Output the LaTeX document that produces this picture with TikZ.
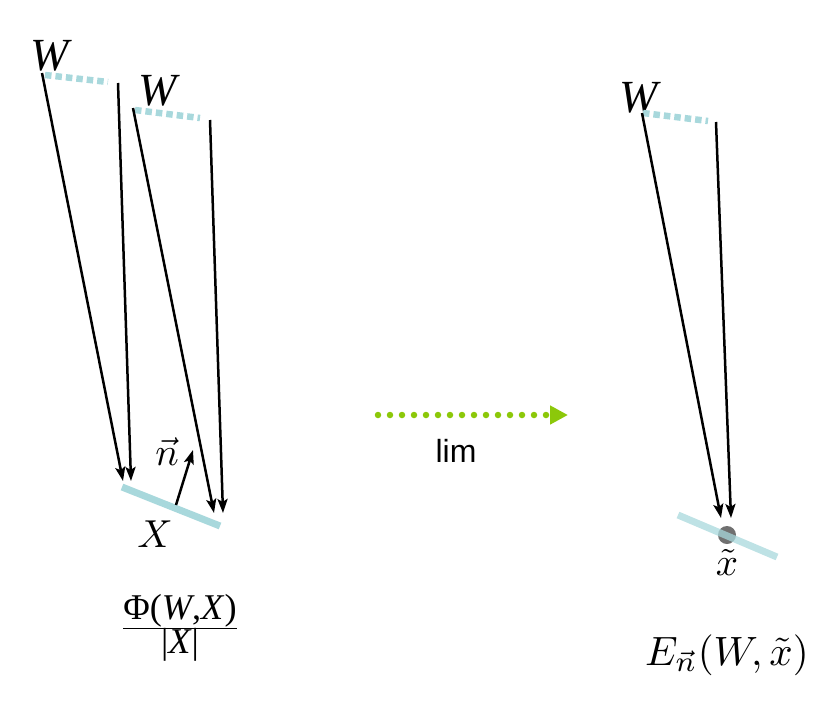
\documentclass[tikz,border=0pt]{standalone}
\usepackage{graphicx}
\usepackage{fontspec}
\newfontfamily\timesf{Liberation Serif}
\newfontfamily\sansf{Liberation Sans}
\usetikzlibrary{arrows.meta}
\definecolor{teal1}{HTML}{A8D8DC}
\definecolor{lime1}{HTML}{8CC80A}
\definecolor{dotgrey}{HTML}{707070}
\newcommand{\hugemath}[1]{\scalebox{3.9}{$#1$}}
\tikzset{
  ray/.style={line width=2.5pt,-{Stealth[length=14pt,width=10pt,inset=3pt]}},
  wlink/.style={teal1,line width=6.5pt,dash pattern=on 6.5pt off 4pt},
  surf/.style={teal1,line width=7pt},
  wlab/.style={font=\fontsize{46}{50}\timesf\itshape,inner sep=0pt},
  mlab/.style={inner sep=0pt},
}
\begin{document}
\begin{tikzpicture}[x=1pt,y=-1pt]
\useasboundingbox (0,0) rectangle (828,716);
% left group
\node[wlab] (W1) at (50,56) {W};
\node[wlab] (W2) at (158,91) {W};
\coordinate (a1s) at (42,73);
\coordinate (a1e) at (123,481);
\coordinate (a2s) at (118,83);
\coordinate (a2e) at (131,481);
\coordinate (a3s) at (133,108);
\coordinate (a3e) at (214,513);
\coordinate (a4s) at (210,120);
\coordinate (a4e) at (223,513);
\coordinate (d1s) at (45,75);
\coordinate (d1e) at (108,82);
\coordinate (d2s) at (135,110);
\coordinate (d2e) at (200,118);
\draw[wlink] (d1s) -- (d1e);
\draw[wlink] (d2s) -- (d2e);
\coordinate (Xa) at (122,487);
\coordinate (Xb) at (220,526);
\draw[surf] (Xa) -- (Xb);
\draw[ray] (a1s) -- (a1e);
\draw[ray] (a2s) -- (a2e);
\draw[ray] (a3s) -- (a3e);
\draw[ray] (a4s) -- (a4e);
\coordinate (ns) at (176,505);
\coordinate (ne) at (193,450);
\draw[ray] (ns) -- (ne);
\node[mlab] (nlab) at (167,452) {\hugemath{\vec{n}}};
\node[mlab] (Xlab) at (155,534) {\hugemath{X}};
\node[inner sep=0pt] (frac) at (180,628) {\scalebox{1.25}{$\frac{\mbox{\fontsize{29}{33}\timesf Φ(\textit{W},\textit{X})}}{\mbox{\fontsize{29}{33}\timesf |\textit{X}|}}$}};
% middle
\coordinate (gs) at (378,415);
\coordinate (ge) at (568,415);
\draw[lime1,line width=6.5pt,line cap=round,dash pattern=on 0pt off 12pt,-{Triangle[length=18pt,width=18pt,line cap=butt]}] (gs) -- (ge);
\node[font=\fontsize{32}{36}\sansf,inner sep=0pt] (lim) at (456,451) {lim};
% right group
\node[wlab] (W3) at (639,98) {W};
\coordinate (b1s) at (642,113);
\coordinate (b1e) at (721,518);
\coordinate (b2s) at (716,122);
\coordinate (b2e) at (731,518);
\coordinate (d3s) at (643,113);
\coordinate (d3e) at (708,121);
\draw[wlink] (d3s) -- (d3e);
\coordinate (xt) at (727,535);
\fill[dotgrey] (xt) circle (9pt);
\coordinate (Ya) at (678,515);
\coordinate (Yb) at (777,557);
\draw[surf,opacity=0.75] (Ya) -- (Yb);
\draw[ray] (b1s) -- (b1e);
\draw[ray] (b2s) -- (b2e);
\node[mlab] (xlab) at (727,562) {\hugemath{\tilde{x}}};
\node[mlab] (Elab) at (727,655) {\scalebox{1.05}{\hugemath{E_{\vec{n}}(W,\tilde{x})}}};
\end{tikzpicture}
\end{document}
